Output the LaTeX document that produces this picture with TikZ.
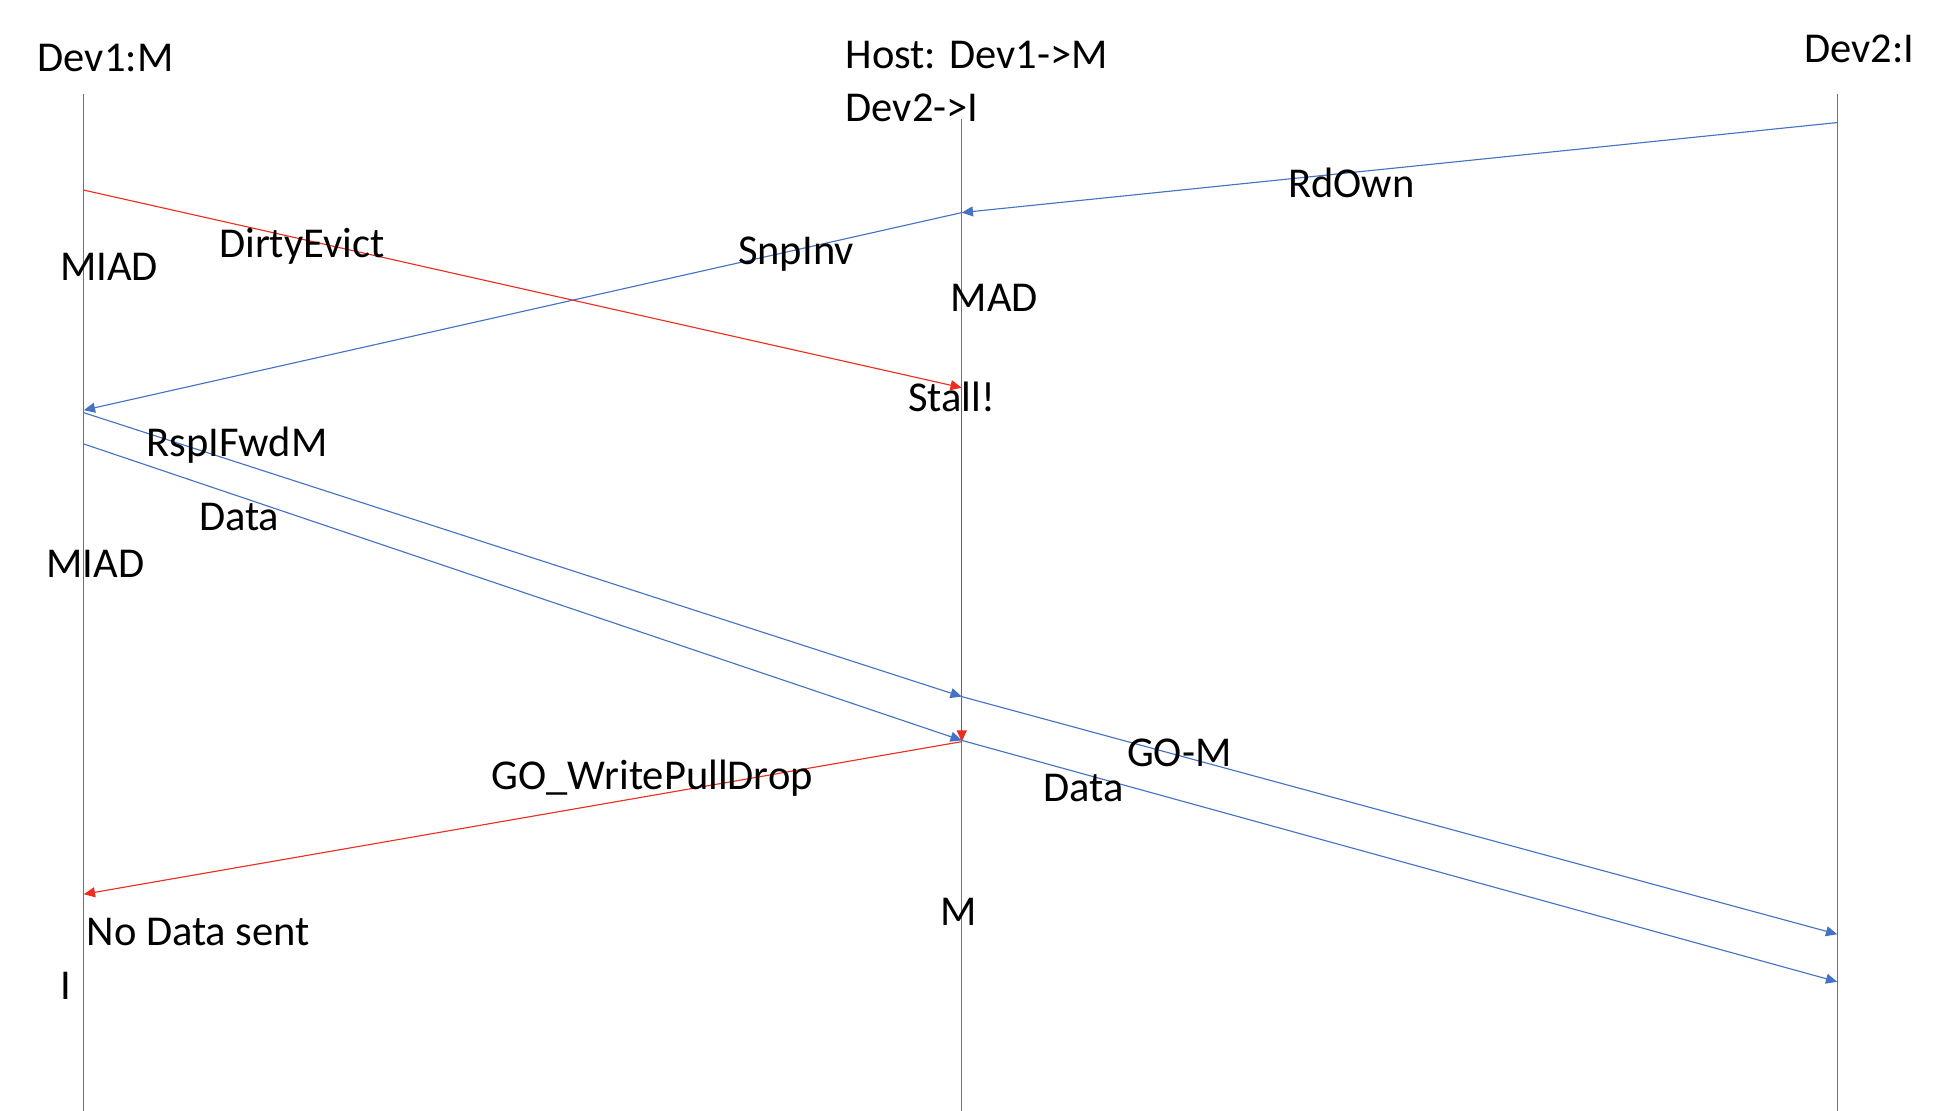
\documentclass[tikz,border=0pt]{standalone}
\usepackage{fontspec}
\setmainfont{Carlito}
\usetikzlibrary{arrows.meta}
\definecolor{bl}{RGB}{68,114,196}
\definecolor{rd}{RGB}{238,45,30}
\begin{document}
\begin{tikzpicture}[x=1pt,y=-1pt,
  lbl/.style={font=\fontsize{34}{40}\selectfont,inner sep=0pt},
  life/.style={draw=bl!80!gray,line width=0.7pt},
  bm/.style={draw=bl,line width=0.9pt,-{Triangle[length=9pt,width=8pt]}},
  rm/.style={draw=rd,line width=0.9pt,-{Triangle[length=9pt,width=8pt]}}]
\useasboundingbox (0,0) rectangle (1564,888);
\coordinate (L1t) at (67,75); \coordinate (L1b) at (67,888);
\coordinate (L2t) at (769,95); \coordinate (L2b) at (769,888);
\coordinate (L3t) at (1469,75); \coordinate (L3b) at (1469,888);
\draw[life] (L1t) -- (L1b); \draw[life] (L2t) -- (L2b); \draw[life] (L3t) -- (L3b);
\node[lbl,anchor=west] (h1) at (30,46) {Dev1:M};
\node[lbl,anchor=west] (h2) at (676,44) {Host: Dev1->M};
\node[lbl,anchor=west] (h2b) at (676,86) {Dev2->I};
\node[lbl,anchor=east] (h3) at (1531,39) {Dev2:I};
\coordinate (a1) at (1469,98); \coordinate (a2) at (769,170);
\coordinate (b1) at (67,328);
\coordinate (c1) at (67,152); \coordinate (c2) at (769,310);
\coordinate (c3) at (769,593);
\coordinate (d1) at (67,330); \coordinate (d2) at (769,557);
\coordinate (e1) at (67,355); \coordinate (e2) at (769,592);
\coordinate (f2) at (1469,747); \coordinate (g2) at (1469,785);
\coordinate (h1b) at (67,715);
\draw[bm] (a1) -- (a2);
\draw[bm] (a2) -- (b1);
\draw[rm] (c1) -- (c2);
\draw[rm] (c2) -- (c3);
\draw[bm] (d1) -- (d2);
\draw[bm] (e1) -- (e2);
\draw[bm] (d2) -- (f2);
\draw[bm] (e2) -- (g2);
\draw[rm] (c3) -- (h1b);
\node[lbl,anchor=west] at (1030,146) {RdOwn};
\node[lbl,anchor=west] at (590,203) {SnpInv};
\node[lbl,anchor=west] at (175,197) {DirtyEvict};
\node[lbl,anchor=west] at (48,213) {MIAD};
\node[lbl,anchor=west] at (760,238) {MAD};
\node[lbl,anchor=west] at (726,317) {Stall!};
\node[lbl,anchor=west] at (117,356) {RspIFwdM};
\node[lbl,anchor=west] at (159,413) {Data};
\node[lbl,anchor=west] at (37,451) {MIAD};
\node[lbl,anchor=west] at (901,602) {GO-M};
\node[lbl,anchor=west] at (834,630) {Data};
\node[lbl,anchor=west] at (393,622) {GO\_WritePullDrop};
\node[lbl,anchor=west] at (752,729) {M};
\node[lbl,anchor=west] at (69,745) {No Data sent};
\node[lbl,anchor=west] at (48,788) {I};
\end{tikzpicture}
\end{document}
